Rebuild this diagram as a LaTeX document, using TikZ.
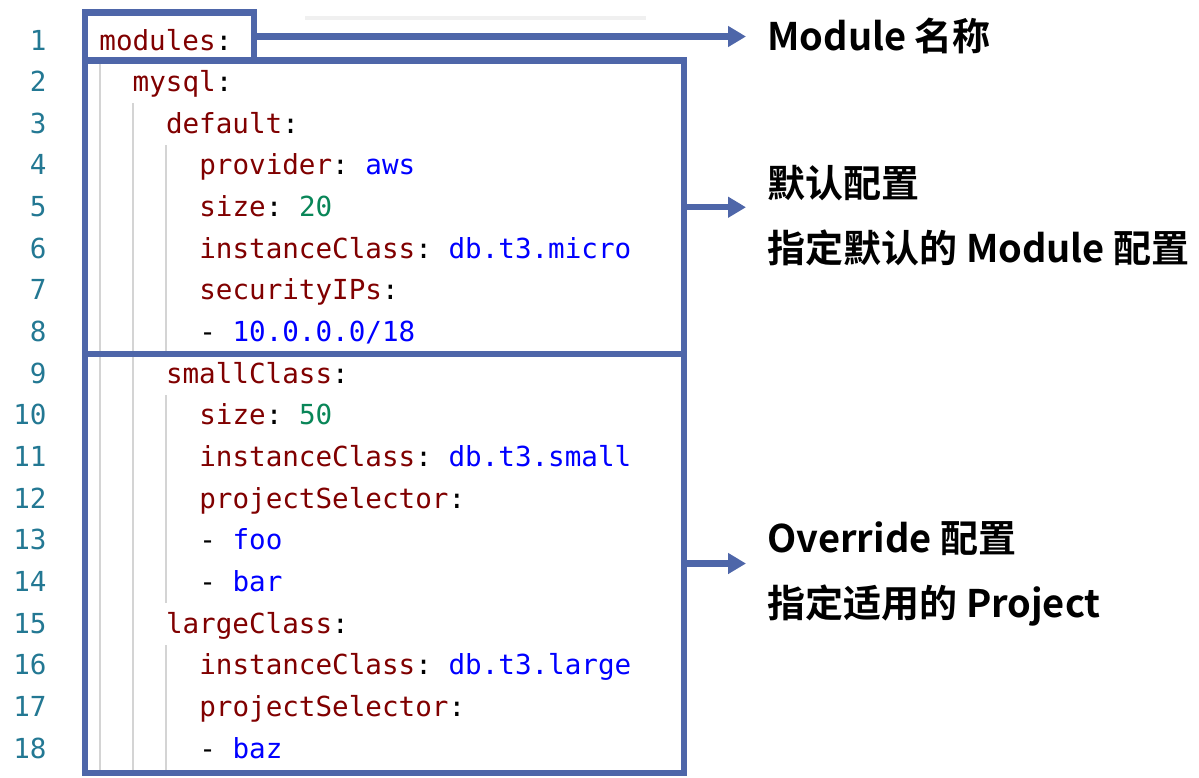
\documentclass[tikz,border=0pt]{standalone}
\usepackage{fontspec}
\usetikzlibrary{arrows.meta}
\setmonofont{DejaVu Sans Mono}
\newfontfamily\notefont{Noto Sans CJK SC Bold}

\definecolor{frameblue}{HTML}{4E66A9}
\definecolor{keyred}{HTML}{800000}
\definecolor{valblue}{HTML}{0000FF}
\definecolor{numgreen}{HTML}{098658}
\definecolor{linenum}{HTML}{237893}
\definecolor{guidegray}{HTML}{D4D4D4}
\definecolor{barwhite}{HTML}{F0F0F0}

\newcommand\ykey[1]{\textcolor{keyred}{#1}}
\newcommand\yval[1]{\textcolor{valblue}{#1}}
\newcommand\ynum[1]{\textcolor{numgreen}{#1}}

\tikzset{code/.style={anchor=base west,inner sep=0pt,font=\ttfamily\fontsize{13.8}{16}\selectfont}}
\tikzset{num/.style={anchor=base east,inner sep=0pt,text=linenum,font=\ttfamily\fontsize{13.8}{16}\selectfont}}
\tikzset{frame/.style={draw=frameblue,line width=3.2pt,inner sep=0pt,outer sep=0pt}}
\tikzset{note/.style={anchor=base west,inner sep=0pt,font=\notefont\fontsize{19}{23}\selectfont}}
\tikzset{pointer/.style={draw=frameblue,line width=3.2pt,-{Triangle[length=9pt,width=10pt]},shorten >=10.5pt}}
\tikzset{guide/.style={draw=guidegray,line width=0.8pt}}

\begin{document}
\begin{tikzpicture}[x=0.5pt,y=-0.5pt]
    \useasboundingbox (0,0) rectangle (1199,777);

    % editor remnants
    \draw [barwhite,line width=2pt] (305,18) -- (646,18);
    \draw [guide] (100,63) -- (100,770);
    \draw [guide] (133,103) -- (133,770);
    \draw [guide] (166,145) -- (166,352);
    \draw [guide] (166,395) -- (166,603);
    \draw [guide] (166,645) -- (166,770);

    \foreach \i in {1,...,18}
        \node (n\i) [num] at (47,{50+(\i-1)*41.65}) {\i};

    \node (c1) [code] at (99,50) {\ykey{modules}:};
    \node (c2) [code] at (132.3,91.65) {\ykey{mysql}:};
    \node (c3) [code] at (165.6,133.3) {\ykey{default}:};
    \node (c4) [code] at (198.9,174.95) {\ykey{provider}: \yval{aws}};
    \node (c5) [code] at (198.9,216.6) {\ykey{size}: \ynum{20}};
    \node (c6) [code] at (198.9,258.25) {\ykey{instanceClass}: \yval{db.t3.micro}};
    \node (c7) [code] at (198.9,299.9) {\ykey{securityIPs}:};
    \node (c8) [code] at (198.9,341.55) {- \yval{10.0.0.0/18}};
    \node (c9) [code] at (165.6,383.2) {\ykey{smallClass}:};
    \node (c10) [code] at (198.9,424.85) {\ykey{size}: \ynum{50}};
    \node (c11) [code] at (198.9,466.5) {\ykey{instanceClass}: \yval{db.t3.small}};
    \node (c12) [code] at (198.9,508.15) {\ykey{projectSelector}:};
    \node (c13) [code] at (198.9,549.8) {- \yval{foo}};
    \node (c14) [code] at (198.9,591.45) {- \yval{bar}};
    \node (c15) [code] at (165.6,633.1) {\ykey{largeClass}:};
    \node (c16) [code] at (198.9,674.75) {\ykey{instanceClass}: \yval{db.t3.large}};
    \node (c17) [code] at (198.9,716.4) {\ykey{projectSelector}:};
    \node (c18) [code] at (198.9,758.05) {- \yval{baz}};

    % frames
    \node (modbox) [frame,minimum width=84.5pt,minimum height=24pt] at (169.5,36.5) {};
    \node (defbox) [frame,minimum width=299.5pt,minimum height=146.75pt] at (384.5,207.25) {};
    \node (ovrbox) [frame,minimum width=299.5pt,minimum height=209.5pt] at (384.5,563.5) {};

    \node (modname) [note] at (767,50) {Module 名称};
    \node (defname) [note] at (767,197) {默认配置};
    \node (defdesc) [note] at (767,262) {指定默认的 Module 配置};
    \node (ovrname) [note] at (767,552) {Override 配置};
    \node (ovrdesc) [note] at (767,617) {指定适用的 Project};

    \draw [pointer] (modbox.east) -- (modbox.east -| modname.west);
    \draw [pointer] (defbox.east) -- (defbox.east -| defname.west);
    \draw [pointer] (ovrbox.east) -- (ovrbox.east -| ovrname.west);
\end{tikzpicture}
\end{document}
